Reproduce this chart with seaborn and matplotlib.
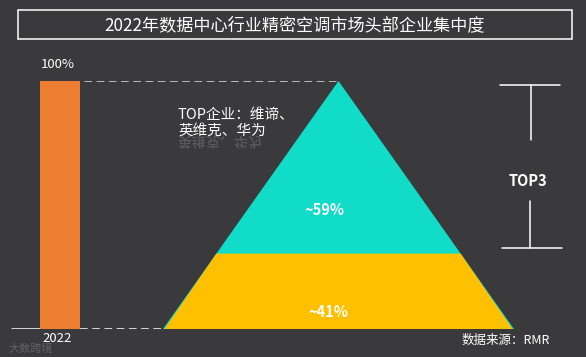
import numpy as np
import matplotlib
matplotlib.use("Agg")
import matplotlib.pyplot as plt
import seaborn as sns
import pandas as pd
from matplotlib.textpath import TextPath
from matplotlib.font_manager import FontProperties
from matplotlib.patches import PathPatch, Rectangle

# data
years = ["2022"]
total_share = [100]
segment_names = ["TOP企业", "其他"]
segment_shares = [59, 41]
top_companies = "维谛、\n英维克、华为"
title = "2022年数据中心行业精密空调市场头部企业集中度"
source = "数据来源：RMR"

bg = "#3a3a3c"
orange = "#ed7d31"
cyan = "#10dcc8"
yellow = "#ffc000"

sns.set_theme(style="white")
plt.rcParams["font.family"] = ["Noto Sans CJK SC", "DejaVu Sans"]

W, H = 586, 357
fig = plt.figure(figsize=(W / 100, H / 100), dpi=100, facecolor=bg)

# overlay in pixel coords
ax = fig.add_axes([0, 0, 1, 1])
ax.set_xlim(0, W)
ax.set_ylim(H, 0)
ax.axis("off")
ax.set_facecolor("none")

# value axes: 0..100 maps to pixel rows 329..81
y_top, y_bot = 81, 329
pos_y = (H - y_bot) / H
pos_h = (y_bot - y_top) / H
dax = fig.add_axes([0, pos_y, 1, pos_h], zorder=1)
dax.set_xlim(0, W)
dax.set_ylim(0, 100)
dax.axis("off")
dax.patch.set_alpha(0)

# bar
bax = fig.add_axes([35 / W, pos_y, 50 / W, pos_h], zorder=2)
df = pd.DataFrame({"year": years, "share": total_share})
sns.barplot(data=df, x="year", y="share", color=orange, saturation=1, width=0.8,
            edgecolor="none", linewidth=0, ax=bax)
bax.set_xlim(-0.5, 0.5)
bax.set_ylim(0, 100)
bax.axis("off")
bax.patch.set_alpha(0)
for p, v in zip(bax.patches, total_share):
    bax.text(p.get_x() + p.get_width() / 2 - 0.05, v + 4, f"{v}%", ha="center", va="bottom",
             color="white", fontsize=9.5, clip_on=False)
ax.text(57, 339, years[0], ha="center", va="center", color="white", fontsize=9.5)

# guide lines
dax.plot([60, 338], [100, 100], color="#dddddd", lw=1.1, ls=(0, (5, 3)), zorder=0)
dax.plot([12, 40], [0, 0], color="white", lw=1.1, zorder=0)
dax.plot([80, 262], [0, 0], color="white", lw=1.1, ls=(0, (5, 3)), zorder=0)

# pyramid
cx, hw = 338.5, 175.5
split = 30.4
def half(level):
    return hw * (1 - level / 100)
dax.fill([cx - hw, cx, cx + hw], [0, 100, 0], color=cyan, lw=0, zorder=2)
dax.fill([cx - hw + 1.5, cx - half(split), cx + half(split), cx + hw - 1.5],
         [0, split, split, 0], color=yellow, lw=0, zorder=3)
dax.text(cx - 14, 48, f"~{segment_shares[0]}%", ha="center", va="center", color="white",
         fontsize=10.5, fontweight="bold", zorder=4)
dax.text(cx - 10, 7, f"~{segment_shares[1]}%", ha="center", va="center", color="white",
         fontsize=10.5, fontweight="bold", zorder=4)

# annotation with reflection
label = f"TOP企业：{top_companies}"
ax.text(178, 108, label, ha="left", va="top", color="white", fontsize=10.5, linespacing=1.15)
fp = FontProperties(family="Noto Sans CJK SC")
tp = TextPath((178, 137), "英维克、华为", size=14, prop=fp)
ax.add_patch(PathPatch(tp, color="white", alpha=0.2, lw=0))

# title box
ax.add_patch(Rectangle((18, 10), 554, 29, fill=False, ec="white", lw=1.1))
ax.text(295, 25, title, ha="center", va="center", color="white", fontsize=12.3)

# TOP3 bracket
ax.plot([500, 560], [85, 85], color="white", lw=1.1)
ax.plot([531, 531], [85, 140], color="white", lw=1.1)
ax.plot([530, 530], [201, 248], color="white", lw=1.1)
ax.plot([502, 562], [248, 248], color="white", lw=1.1)
ax.text(528, 181, "TOP3", ha="center", va="center", color="white", fontsize=10.5, fontweight="bold")

ax.text(550, 340, source, ha="right", va="center", color="white", fontsize=9)
ax.text(8, 349, "大数跨境", ha="left", va="center", color="#888888", fontsize=8, alpha=0.5)

fig.savefig("out.png", dpi=100, facecolor=bg)
